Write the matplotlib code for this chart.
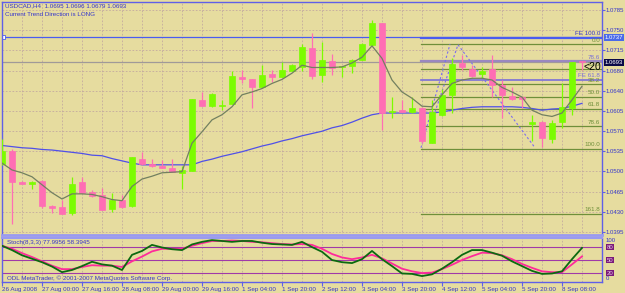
import matplotlib
matplotlib.use("Agg")
import matplotlib.pyplot as plt
import matplotlib.transforms as mtransforms
import numpy as np

W, H = 625, 293
BG = "#e6dc9f"
AXIS = "#5f5fe8"
TEXT = "#3434cc"
GRID = "#c3a9a0"
BULL = "#7cfc00"
BEAR = "#ff6eb4"
FIB = "#6f8f3a"
FE = "#7a6fd8"

plt.rcParams["font.family"] = ["Liberation Sans", "DejaVu Sans"]

# --- USDCAD H4 candles (bar 0 = 26 Aug 2008 08:00) ---
opens = [1.0514, 1.0538, 1.0483, 1.0480, 1.0485, 1.0441, 1.0439, 1.0428, 1.0482, 1.0466,
         1.0460, 1.0435, 1.0452, 1.0441, 1.0524, 1.0514, 1.0511, 1.0508, 1.0499, 1.0503,
         1.0627, 1.0616, 1.0617, 1.0620, 1.0668, 1.0663, 1.0649, 1.0673, 1.0668, 1.0678,
         1.0685, 1.0719, 1.0671, 1.0696, 1.0684, 1.0687, 1.0698, 1.0724, 1.0762, 1.0605,
         1.0609, 1.0606, 1.0612, 1.0552, 1.0601, 1.0636, 1.0692, 1.0681, 1.0673, 1.0681,
         1.0653, 1.0634, 1.0632, 1.0585, 1.0589, 1.0558, 1.0589, 1.0612, 1.0695]
highs = [1.0558, 1.0540, 1.0484, 1.0484, 1.0486, 1.0442, 1.0451, 1.0492, 1.0492, 1.0469,
         1.0472, 1.0464, 1.0460, 1.0526, 1.0536, 1.0523, 1.0521, 1.0523, 1.0511, 1.0628,
         1.0641, 1.0639, 1.0627, 1.0677, 1.0680, 1.0664, 1.0688, 1.0680, 1.0694, 1.0690,
         1.0725, 1.0744, 1.0728, 1.0708, 1.0687, 1.0699, 1.0727, 1.0767, 1.0763, 1.0633,
         1.0627, 1.0633, 1.0614, 1.0627, 1.0646, 1.0701, 1.0706, 1.0688, 1.0685, 1.0706,
         1.0662, 1.0650, 1.0634, 1.0600, 1.0590, 1.0592, 1.0656, 1.0694, 1.0696]
lows = [1.0512, 1.0409, 1.0479, 1.0470, 1.0437, 1.0429, 1.0426, 1.0425, 1.0463, 1.0457,
        1.0433, 1.0431, 1.0438, 1.0439, 1.0513, 1.0510, 1.0507, 1.0500, 1.0471, 1.0502,
        1.0616, 1.0614, 1.0609, 1.0619, 1.0657, 1.0613, 1.0648, 1.0659, 1.0667, 1.0677,
        1.0678, 1.0663, 1.0659, 1.0671, 1.0668, 1.0675, 1.0697, 1.0722, 1.0575, 1.0595,
        1.0605, 1.0604, 1.0551, 1.0551, 1.0598, 1.0604, 1.0680, 1.0668, 1.0665, 1.0633,
        1.0596, 1.0627, 1.0612, 1.0554, 1.0545, 1.0551, 1.0577, 1.0600, 1.0679]
closes = [1.0538, 1.0483, 1.0480, 1.0483, 1.0441, 1.0438, 1.0427, 1.0480, 1.0464, 1.0458,
          1.0434, 1.0451, 1.0439, 1.0526, 1.0514, 1.0511, 1.0508, 1.0501, 1.0504, 1.0628,
          1.0616, 1.0637, 1.0618, 1.0669, 1.0664, 1.0649, 1.0671, 1.0668, 1.0680, 1.0688,
          1.0720, 1.0669, 1.0697, 1.0683, 1.0686, 1.0698, 1.0725, 1.0762, 1.0604, 1.0607,
          1.0606, 1.0612, 1.0554, 1.0606, 1.0636, 1.0691, 1.0685, 1.0669, 1.0678, 1.0653,
          1.0636, 1.0628, 1.0628, 1.0589, 1.0560, 1.0586, 1.0615, 1.0693, 1.0693]

ma_fast = [1.0516, 1.0504, 1.0499, 1.0492, 1.0478, 1.0464, 1.0453, 1.0462, 1.0462, 1.0461,
           1.0457, 1.0452, 1.0450, 1.0475, 1.0488, 1.0493, 1.0499, 1.0500, 1.0501, 1.0551,
           1.0571, 1.0592, 1.0601, 1.0615, 1.0636, 1.0641, 1.0647, 1.0656, 1.0663, 1.0674,
           1.0688, 1.0684, 1.0684, 1.0684, 1.0685, 1.0692, 1.0702, 1.0722, 1.0700, 1.0662,
           1.0641, 1.0630, 1.0616, 1.0615, 1.0636, 1.0656, 1.0662, 1.0665, 1.0665, 1.0662,
           1.0649, 1.0641, 1.0632, 1.0609, 1.0601, 1.0598, 1.0604, 1.0627, 1.0651]
ma_slow = [1.0547, 1.0545, 1.0543, 1.0542, 1.0540, 1.0539, 1.0537, 1.0535, 1.0533, 1.0530,
           1.0529, 1.0524, 1.0520, 1.0516, 1.0513, 1.0513, 1.0513, 1.0513, 1.0513, 1.0513,
           1.0519, 1.0523, 1.0528, 1.0532, 1.0536, 1.0541, 1.0546, 1.0550, 1.0555, 1.0559,
           1.0564, 1.0568, 1.0572, 1.0578, 1.0582, 1.0588, 1.0595, 1.0601, 1.0604, 1.0604,
           1.0604, 1.0604, 1.0604, 1.0604, 1.0606, 1.0609, 1.0612, 1.0614, 1.0615, 1.0615,
           1.0615, 1.0615, 1.0614, 1.0612, 1.0609, 1.0611, 1.0612, 1.0616, 1.0621]

stoch_k = [83, 73, 61, 53, 45, 35, 22, 27, 36, 46, 40, 37, 27, 62, 71, 85, 79, 75, 73, 86,
           92, 96, 94, 92, 94, 94, 90, 87, 86, 85, 92, 80, 69, 50, 45, 43, 52, 71, 52, 36,
           19, 18, 13, 17, 30, 45, 62, 73, 73, 67, 60, 47, 36, 25, 18, 19, 24, 52, 78.0]
stoch_d = [83, 76, 66, 57, 47, 37, 29, 29, 34, 38, 37, 37, 34, 47, 58, 70, 76, 76, 76, 83,
           89, 94, 94, 95, 94, 92, 91, 89, 87, 86, 87, 85, 76, 64, 56, 52, 56, 62, 54, 42,
           30, 24, 20, 21, 29, 39, 50, 59, 67, 66, 61, 52, 41, 32, 24, 22, 22, 40, 58.4]
stoch_levels = [80, 50, 20]

time_labels = ["26 Aug 2008", "27 Aug 00:00", "27 Aug 16:00", "28 Aug 08:00", "29 Aug 00:00",
               "29 Aug 16:00", "1 Sep 04:00", "1 Sep 20:00", "2 Sep 12:00", "3 Sep 04:00",
               "3 Sep 20:00", "4 Sep 12:00", "5 Sep 04:00", "5 Sep 20:00", "8 Sep 08:00"]
time_label_bars = list(range(0, 57, 4))
price_labels = ["1.0785", "1.0750", "1.0715", "1.0680", "1.0640", "1.0605",
                "1.0570", "1.0535", "1.0500", "1.0465", "1.0430", "1.0395"]

# horizontal lines / fibonacci objects
hline_blue = 1.0737
bid_price = 1.0693
fib_high, fib_low, fib_start = 1.0725, 1.0541, 41.9
fib_levels = [0.0, 23.6, 38.2, 50.0, 61.8, 78.6, 100.0, 161.8]
fe_a, fe_b, fe_c = 1.0532, 1.0725, 1.0543
fe_levels = [61.8, 78.6, 100.0]
fe_names = ["FE 61.8", "78.6", "FE 100.0"]
dashed_x = [[41.9, 44.8], [43.3, 45.6], [45.6, 53.3]]
dashed_y = [[1.0543, 1.0725], [1.0606, 1.0724], [1.0724, 1.0543]]

n = len(opens)
x = np.arange(n)
o, h, l, c = map(np.array, (opens, highs, lows, closes))
bull = c >= o
colors = np.where(bull, BULL, BEAR)

fig = plt.figure(figsize=(W / 100, H / 100), dpi=100, facecolor=BG)
ax = fig.add_axes([2 / W, 1 - 235 / H, 600 / W, 233 / H], facecolor=BG)
ax2 = fig.add_axes([2 / W, 1 - 282 / H, 600 / W, 44 / H], facecolor=BG)

scale = (1.0785 - 1.0395) / 222
ax.set_xlim(0, 60)
ax.set_ylim(1.0395 - 3 * scale, 1.0785 + 8 * scale)
ax2.set_xlim(0, 60)
ax2.set_ylim(-0.7, 100.9)

# grid
ptick = np.linspace(1.0785, 1.0395, len(price_labels))
for a in (ax, ax2):
    for gx in range(0, 60, 2):
        a.axvline(gx, color=GRID, lw=0.6, ls=(0, (2, 2)), zorder=0)
for gy in ptick:
    ax.axhline(gy, color=GRID, lw=0.6, ls=(0, (2, 2)), zorder=0)

# full-width lines
ax.axhline(hline_blue, color="#4a5cf0", lw=0.9, zorder=1)
ax.plot([0.12], [hline_blue], marker="s", ms=2.5, mfc="white", mec="#4a5cf0", mew=0.6, zorder=2)
ax.axhline(bid_price, color="#a09a98", lw=0.9, zorder=1)

# fibonacci retracement
for lv in fib_levels:
    py = fib_high - lv / 100 * (fib_high - fib_low)
    ax.plot([fib_start, 60], [py, py], color=FIB, lw=0.9, zorder=1)
    ax.text(59.8, py + 1.6 * scale, f"{lv:.1f}", color=FIB, fontsize=4.5,
            ha="right", va="bottom", zorder=5)

# fibonacci expansion
for lv, name in zip(fe_levels, fe_names):
    py = fe_c + lv / 100 * (fe_b - fe_a)
    col = "#4a5cf0" if lv == 100.0 else ("#9a88c0" if lv == 78.6 else FE)
    ax.plot([fib_start, 60], [py, py], color=col, lw=1.6 if lv != 61.8 else 1.2, zorder=1)
    ax.text(59.8, py + 1.6 * scale, name, color=FE if lv != 100.0 else TEXT, fontsize=4.5,
            ha="right", va="bottom", zorder=5)

for dx, dy in zip(dashed_x, dashed_y):
    ax.plot(dx, dy, color="#7b6cf0", lw=0.8, ls=(0, (2, 2)), zorder=3)

# moving averages
ax.plot(x, ma_slow, color="#5050e8", lw=0.9, zorder=2)
ax.plot(x, ma_fast, color="#728060", lw=0.9, zorder=4)

# candles
ax.vlines(x, l, h, colors=colors, lw=0.9, zorder=3)
body_lo = np.minimum(o, c)
body_h = np.maximum(np.abs(c - o), 0.6 * scale)
ax.bar(x, body_h, bottom=body_lo, width=0.62, color=colors, edgecolor=colors,
       linewidth=0.5, zorder=3)

ax.text(59.9, bid_price - 5 * scale, "<20", fontsize=7.5, color="black",
        ha="right", va="center", zorder=6, clip_on=True)

# price axis
ax.yaxis.tick_right()
ax.set_yticks(ptick)
ax.set_yticklabels(price_labels)
ax.tick_params(axis="y", length=2, color=AXIS, labelcolor=TEXT, labelsize=4.3, pad=0.5)
ax.set_xticks([])
for s in ax.spines.values():
    s.set_color(AXIS)
    s.set_linewidth(1)
ax.spines["bottom"].set_color("#9a9af0")
ax.spines["bottom"].set_linewidth(2)

tr = mtransforms.blended_transform_factory(ax.transAxes, ax.transData)
ax.text(1.0045, hline_blue, "1.0737", transform=tr, fontsize=4.3, color="white",
        va="center", ha="left", clip_on=False,
        bbox=dict(boxstyle="square,pad=0.12", fc="#4a6ae8", ec="none"))
ax.text(1.0045, bid_price, "1.0693", transform=tr, fontsize=4.3, color="white",
        va="center", ha="left", clip_on=False,
        bbox=dict(boxstyle="square,pad=0.12", fc="#0a0a48", ec="none"))

# stochastic pane
for lv in stoch_levels:
    ax2.axhline(lv, color="#a03aa8", lw=0.8, zorder=1)
ax2.plot(x, stoch_k, color="#0b6a10", lw=1.3, zorder=3)
ax2.plot(x, stoch_d, color="#ff2a9a", lw=1.3, zorder=2)
ax2.text(0.5, 91, "Stoch(8,3,3) 77.9956 58.3945", fontsize=4.5, color=TEXT, va="center")
ax2.text(0.5, 8, "ODL MetaTrader, \u00a9 2001-2007 MetaQuotes Software Corp.",
         fontsize=4.5, color=TEXT, va="center")

tr2 = mtransforms.blended_transform_factory(ax2.transAxes, ax2.transData)
ax2.text(1.006, 94, "100", transform=tr2, fontsize=4.3, color=TEXT, va="center", clip_on=False)
ax2.text(1.006, 7, "0", transform=tr2, fontsize=4.3, color=TEXT, va="center", clip_on=False)
for lv in stoch_levels:
    ax2.text(1.008, lv, str(lv), transform=tr2, fontsize=4.3, color="#e8c8e8",
             va="center", ha="left", clip_on=False,
             bbox=dict(boxstyle="square,pad=0.15", fc="#7a1a7a", ec="none"))

ax2.set_yticks([])
ax2.set_xticks(time_label_bars)
ax2.set_xticklabels(time_labels, ha="left")
offset = mtransforms.ScaledTranslation(1.5 / 100, 0, fig.dpi_scale_trans)
for lab in ax2.get_xticklabels():
    lab.set_transform(lab.get_transform() + offset)
ax2.tick_params(axis="x", length=3, color=AXIS, labelcolor=TEXT, labelsize=4.5, pad=0.5)
for s in ax2.spines.values():
    s.set_color(AXIS)
    s.set_linewidth(1)
ax2.spines["top"].set_color("#9a9af0")
ax2.spines["top"].set_linewidth(1.5)

# header
fig.text(5 / W, 1 - 6 / H, "USDCAD,H4  1.0695 1.0696 1.0679 1.0693", fontsize=4.5,
         color=TEXT, va="center")
fig.text(5 / W, 1 - 14 / H, "Current Trend Direction is LONG", fontsize=4.5,
         color=TEXT, va="center")

fig.savefig("out.png", dpi=100, facecolor=BG)
